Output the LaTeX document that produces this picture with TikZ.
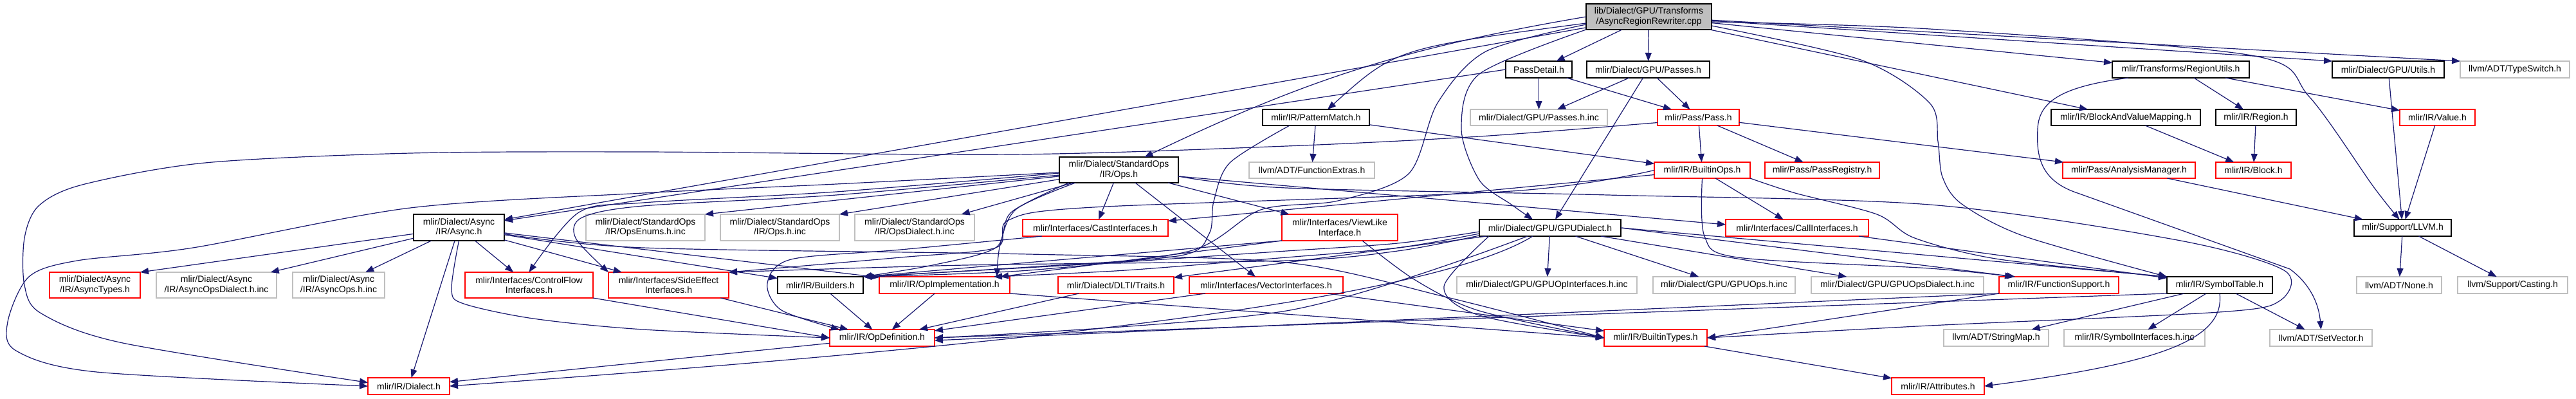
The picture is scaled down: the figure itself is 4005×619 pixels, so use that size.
\documentclass[tikz,border=0pt]{standalone}
\usepackage{fontspec}
\setmainfont{Liberation Sans}
\usetikzlibrary{arrows.meta}
\definecolor{edgec}{HTML}{191970}
\definecolor{grayb}{HTML}{BFBFBF}
\definecolor{redb}{HTML}{FF0000}
\definecolor{rootf}{HTML}{BFBFBF}
\newcommand{\gnode}[7]{\node[#2, minimum width={(#5)-(#3)}, minimum height={(#6)-(#4)}] (#1) at ({((#3)+(#5))/2},{-((#4)+(#6))/2}) {#7};}
\tikzset{
  nd/.style={draw, line width=1.2pt, inner sep=0pt, outer sep=0pt, align=center, font=\fontsize{14}{15.5}\selectfont, text=black},
  blk/.style={nd, draw=black},
  rd/.style={nd, draw=redb},
  gry/.style={nd, draw=grayb},
  rt/.style={nd, draw=black, fill=rootf},
  ed/.style={draw=edgec, line width=1.2pt, -{Triangle[length=13pt,width=10pt]}},
}
\begin{document}
\begin{tikzpicture}[x=1pt,y=1pt]
\fill[white] (0,0) rectangle (4005,-619);
\useasboundingbox (0,0) rectangle (4005,-619);
% row A/B
\gnode{root}{rt}{2466}{6}{2661}{46}{lib/Dialect/GPU/Transforms\\/AsyncRegionRewriter.cpp}
\gnode{pd}{blk}{2341}{95}{2444}{121}{PassDetail.h}
\gnode{gpupasses}{blk}{2467}{95}{2658}{121}{mlir/Dialect/GPU/Passes.h}
\gnode{ru}{blk}{3284}{95}{3497}{121}{mlir/Transforms/RegionUtils.h}
\gnode{gu}{blk}{3626}{95}{3800}{121}{mlir/Dialect/GPU/Utils.h}
\gnode{ts}{gry}{3825}{95}{3995}{121}{llvm/ADT/TypeSwitch.h}
% row C
\gnode{pm}{blk}{1963}{170}{2129}{195}{mlir/IR/PatternMatch.h}
\gnode{passesinc}{gry}{2286}{170}{2499}{195}{mlir/Dialect/GPU/Passes.h.inc}
\gnode{pass}{rd}{2577}{170}{2704}{195}{mlir/Pass/Pass.h}
\gnode{bvm}{blk}{3189}{170}{3421}{195}{mlir/IR/BlockAndValueMapping.h}
\gnode{region}{blk}{3445}{170}{3570}{195}{mlir/IR/Region.h}
\gnode{value}{rd}{3731}{170}{3848}{195}{mlir/IR/Value.h}
% row D
\gnode{ops}{blk}{1647}{244}{1832}{284}{mlir/Dialect/StandardOps\\/IR/Ops.h}
\gnode{fe}{gry}{1942}{252}{2137}{277}{llvm/ADT/FunctionExtras.h}
\gnode{bops}{rd}{2572}{252}{2721}{277}{mlir/IR/BuiltinOps.h}
\gnode{preg}{rd}{2744}{252}{2922}{277}{mlir/Pass/PassRegistry.h}
\gnode{am}{rd}{3207}{252}{3413}{277}{mlir/Pass/AnalysisManager.h}
\gnode{block}{rd}{3445}{252}{3562}{277}{mlir/IR/Block.h}
% row E
\gnode{async}{blk}{643}{333}{784}{374}{mlir/Dialect/Async\\/IR/Async.h}
\gnode{enums}{gry}{911}{333}{1096}{374}{mlir/Dialect/StandardOps\\/IR/OpsEnums.h.inc}
\gnode{opsinc}{gry}{1120}{333}{1305}{374}{mlir/Dialect/StandardOps\\/IR/Ops.h.inc}
\gnode{opsdialinc}{gry}{1329}{333}{1515}{374}{mlir/Dialect/StandardOps\\/IR/OpsDialect.h.inc}
\gnode{cast}{rd}{1590}{341}{1816}{367}{mlir/Interfaces/CastInterfaces.h}
\gnode{viewlike}{rd}{1993}{333}{2173}{374}{mlir/Interfaces/ViewLike\\Interface.h}
\gnode{gpud}{blk}{2300}{341}{2520}{367}{mlir/Dialect/GPU/GPUDialect.h}
\gnode{call}{rd}{2683}{341}{2905}{367}{mlir/Interfaces/CallInterfaces.h}
\gnode{llvmh}{blk}{3660}{341}{3811}{367}{mlir/Support/LLVM.h}
% row F
\gnode{asynctypes}{rd}{77}{423}{218}{463}{mlir/Dialect/Async\\/IR/AsyncTypes.h}
\gnode{asyncdialinc}{gry}{243}{423}{430}{463}{mlir/Dialect/Async\\/IR/AsyncOpsDialect.h.inc}
\gnode{asyncopsinc}{gry}{455}{423}{598}{463}{mlir/Dialect/Async\\/IR/AsyncOps.h.inc}
\gnode{cf}{rd}{723}{423}{922}{463}{mlir/Interfaces/ControlFlow\\Interfaces.h}
\gnode{se}{rd}{946}{423}{1133}{463}{mlir/Interfaces/SideEffect\\Interfaces.h}
\gnode{builders}{blk}{1209}{430}{1342}{456}{mlir/IR/Builders.h}
\gnode{opimpl}{rd}{1367}{430}{1570}{456}{mlir/IR/OpImplementation.h}
\gnode{dlti}{rd}{1645}{430}{1825}{456}{mlir/Dialect/DLTI/Traits.h}
\gnode{vec}{rd}{1849}{430}{2088}{456}{mlir/Interfaces/VectorInterfaces.h}
\gnode{gpuopif}{gry}{2265}{430}{2545}{456}{mlir/Dialect/GPU/GPUOpInterfaces.h.inc}
\gnode{gpuopsinc}{gry}{2570}{430}{2791}{456}{mlir/Dialect/GPU/GPUOps.h.inc}
\gnode{gpudialinc}{gry}{2816}{430}{3084}{456}{mlir/Dialect/GPU/GPUOpsDialect.h.inc}
\gnode{fs}{rd}{3108}{430}{3294}{456}{mlir/IR/FunctionSupport.h}
\gnode{st}{blk}{3369}{430}{3533}{456}{mlir/IR/SymbolTable.h}
\gnode{none}{gry}{3664}{430}{3796}{456}{llvm/ADT/None.h}
\gnode{casting}{gry}{3821}{430}{3992}{456}{llvm/Support/Casting.h}
% row G/H
\gnode{opdef}{rd}{1290}{512}{1453}{538}{mlir/IR/OpDefinition.h}
\gnode{btypes}{rd}{2494}{512}{2654}{538}{mlir/IR/BuiltinTypes.h}
\gnode{stringmap}{gry}{3022}{512}{3185}{538}{llvm/ADT/StringMap.h}
\gnode{symifinc}{gry}{3209}{512}{3428}{538}{mlir/IR/SymbolInterfaces.h.inc}
\gnode{setvector}{gry}{3529}{512}{3688}{538}{llvm/ADT/SetVector.h}
\gnode{dialect}{rd}{572}{587}{699}{613}{mlir/IR/Dialect.h}
\gnode{attrs}{rd}{2941}{587}{3085}{613}{mlir/IR/Attributes.h}

% ---- edges from root
\draw[ed] (root) -- (pd);
\draw[ed] (root) -- (gpupasses);
\draw[ed] ([yshift=-10pt]root.west) .. controls (2170,-75) .. ([xshift=18pt]pm.north);
\draw[ed] (root.west) to[bend right=8] ([xshift=40pt]ops.north);
\draw[ed] (root) -- (async);
\draw[ed] plot[smooth] coordinates {(root.south west) (2300,-115) (2272,-200) (2300,-280) (2350,-318) ([xshift=83pt]gpud.north west)};
\draw[ed] plot[smooth] coordinates {([yshift=-12pt]root.west) (2310,-80) (2235,-160) (2190,-270) (2080,-312) (1960,-326) (1850,-390) (1600,-420) (builders.north east)};
\draw[ed] plot[smooth] coordinates {([yshift=-14pt]root.east) (2893,-93) (3000,-160) (3013,-220) (3020,-275) (3050,-317) (3147,-367) (st.north west)};
\draw[ed] plot[smooth] coordinates {([yshift=-8pt]root.east) (3000,-45) (3500,-86) (3590,-150) (3690,-290) ([xshift=-5pt]llvmh.north)};
\draw[ed] (root) -- (ru);
\draw[ed] (root) -- (gu.north west);
\draw[ed] (root) -- (ts.north west);
\draw[ed] (root) -- (bvm);
% ---- PassDetail, Passes
\draw[ed] (pd.west) -- (async);
\draw[ed] (pd) -- (passesinc);
\draw[ed] (pd) -- (pass);
\draw[ed] (gpupasses) -- (passesinc);
\draw[ed] (gpupasses) -- (pass);
\draw[ed] (gpupasses) -- (gpud);
% ---- PatternMatch
\draw[ed] (pm) -- (fe);
\draw[ed] (pm) -- (bops);
\draw[ed] plot[smooth] coordinates {([xshift=42pt]pm.south west) (1912,-253) (1887,-313) (1880,-363) (1836,-397) (1600,-415) (builders.north east)};
% ---- Pass
\draw[ed] (pass) -- (bops);
\draw[ed] (pass) -- (preg);
\draw[ed] (pass) -- (am);
\draw[ed] plot[smooth] coordinates {([yshift=-8pt]pass.west) (2300,-212) (2000,-227) (1574,-240) (1000,-236) (638,-238) (319,-253) (128,-287) (60,-320) (38,-370) (38,-443) (64,-487) (191,-533) (dialect.175)};
% ---- BuiltinOps
\draw[ed] (bops) -- (call);
\draw[ed] (bops) -- (cast);
\draw[ed] plot[smooth] coordinates {(bops.west) (2350,-297) (1700,-322) (1568,-342) (1548,-385) (1400,-400) (se.north east)};
\draw[ed] plot[smooth] coordinates {(bops.south) (2650,-367) (2702,-400) (3000,-417) ([xshift=22pt]fs.north west)};
\draw[ed] plot[smooth] coordinates {(bops.south east) (2791,-300) (2918,-333) (2977,-370) (3109,-403) (st.north west)};
% ---- RegionUtils etc
\draw[ed] (ru) -- (region);
\draw[ed] (ru) -- (value);
\draw[ed] ([xshift=25pt]ru.south west) .. controls (3200,-135) and (3170,-160) .. (3168,-200) .. controls (3166,-240) and (3170,-280) .. (3230,-300) -- (3560,-418) .. controls (3590,-440) and (3605,-470) .. (setvector.north);
\draw[ed] (gu) -- (llvmh);
\draw[ed] (bvm) -- (block);
\draw[ed] (region) -- (block);
\draw[ed] (value) -- (llvmh);
\draw[ed] (am) -- (llvmh);
\draw[ed] (llvmh) -- (none);
\draw[ed] (llvmh) -- (casting);
% ---- StandardOps Ops.h
\draw[ed] (ops) -- (enums.north east);
\draw[ed] (ops) -- (opsinc.north east);
\draw[ed] (ops) -- (opsdialinc);
\draw[ed] (ops) -- (cast);
\draw[ed] (ops) -- (viewlike);
\draw[ed] (ops) -- (vec);
\draw[ed] ([yshift=-10pt]ops.east) -- ([yshift=5pt]call.west);
\draw[ed] plot[smooth] coordinates {([yshift=-5pt]ops.west) (1300,-298) (1000,-315) (900,-330) (cf.north)};
\draw[ed] plot[smooth] coordinates {([yshift=-8pt]ops.west) (1300,-303) (1000,-320) (905,-338) (895,-370) (se.north west)};
\draw[ed] plot[smooth] coordinates {([xshift=15pt]ops.south west) (1572,-330) (1548,-385) (1450,-412) (builders.north east)};
\draw[ed] plot[smooth] coordinates {([xshift=25pt]ops.south west) (1580,-325) (1555,-380) ([xshift=-20pt]opimpl.north east)};
\draw[ed] plot[smooth] coordinates {([yshift=-10pt]ops.east) (2000,-292) (2500,-303) (3000,-318) (3385,-373) (3551,-420) (3545,-467) (3450,-485) (3000,-506) (btypes.east)};
\draw[ed] plot[smooth] coordinates {([yshift=-4pt]ops.west) (1300,-286) (1000,-300) (638,-323) (300,-385) (120,-405) (45,-430) (12,-500) (25,-545) (150,-578) (dialect.west)};
% ---- Async.h
\draw[ed] (async) -- (asynctypes.north east);
\draw[ed] (async) -- (asyncdialinc);
\draw[ed] (async) -- (asyncopsinc);
\draw[ed] (async) -- (cf);
\draw[ed] (async) -- (se);
\draw[ed] (async) -- (dialect);
\draw[ed] (async) -- (builders);
\draw[ed] (async) -- (opimpl);
\draw[ed] plot[smooth] coordinates {([yshift=-10pt]async.east) (1000,-385) (1600,-395) (2000,-408) (2250,-462) (btypes.west)};
\draw[ed] plot[smooth] coordinates {(async.south) (702,-450) (721,-472) (829,-495) (1000,-512) (opdef.west)};
% ---- GPUDialect.h
\draw[ed] (gpud) -- (gpuopif);
\draw[ed] (gpud) -- (gpuopsinc);
\draw[ed] (gpud) -- (gpudialinc);
\draw[ed] (gpud) -- (dlti);
\draw[ed] plot[smooth] coordinates {([yshift=-6pt]gpud.west) (2173,-378) (2000,-390) (1700,-410) (builders.north east)};
\draw[ed] plot[smooth] coordinates {([yshift=-9pt]gpud.west) (2173,-385) (2000,-400) (1750,-420) ([xshift=-25pt]opimpl.north east)};
\draw[ed] plot[smooth] coordinates {([yshift=-12pt]gpud.west) (2173,-390) (2000,-405) (1500,-412) (se.north east)};
\draw[ed] plot[smooth] coordinates {([xshift=75pt]gpud.south west) (2000,-483) (opdef.east)};
\draw[ed] ([xshift=83pt]gpud.south west) .. controls (2200,-480) and (1400,-550) .. (dialect.east);
\draw[ed] plot[smooth] coordinates {([xshift=15pt]gpud.south west) (2245,-445) (2300,-490) (btypes.west)};
\draw[ed] (gpud.east) -- ([xshift=25pt]fs.north west);
\draw[ed] (gpud.east) -- (st.north west);
% ---- ViewLike
\draw[ed] (viewlike.south west) -- (builders.north east);
\draw[ed] (viewlike.south west) -- ([xshift=-15pt]opimpl.north east);
\draw[ed] plot[smooth] coordinates {([xshift=-55pt]viewlike.south east) (2200,-435) (2300,-483) (btypes.west)};
% ---- into OpDefinition
\draw[ed] (cf.south east) -- (opdef.west);
\draw[ed] (se) -- (opdef);
\draw[ed] (builders) -- (opdef);
\draw[ed] (opimpl) -- (opdef);
\draw[ed] (dlti) -- (opdef);
\draw[ed] (vec) -- (opdef);
\draw[ed] plot[smooth] coordinates {([xshift=30pt]cast.south west) (1400,-388) (1230,-403) (1193,-440) (1215,-482) ([xshift=15pt]opdef.north west)};
\draw[ed] (fs.south west) -- ([yshift=-4pt]opdef.east);
\draw[ed] (st.south west) -- (opdef.east);
% ---- into BuiltinTypes etc
\draw[ed] (opimpl.south east) -- (btypes.west);
\draw[ed] (vec) -- (btypes);
\draw[ed] (fs.south west) -- (btypes.east);
\draw[ed] (opdef) -- (dialect);
\draw[ed] (btypes) -- (attrs);
\draw[ed] (call) -- (st);
\draw[ed] (st.south) .. controls (3460,-530) and (3350,-565) .. (attrs.east);
\draw[ed] (st) -- (stringmap);
\draw[ed] (st) -- (symifinc);
\draw[ed] (st) -- (setvector);
\end{tikzpicture}
\end{document}
